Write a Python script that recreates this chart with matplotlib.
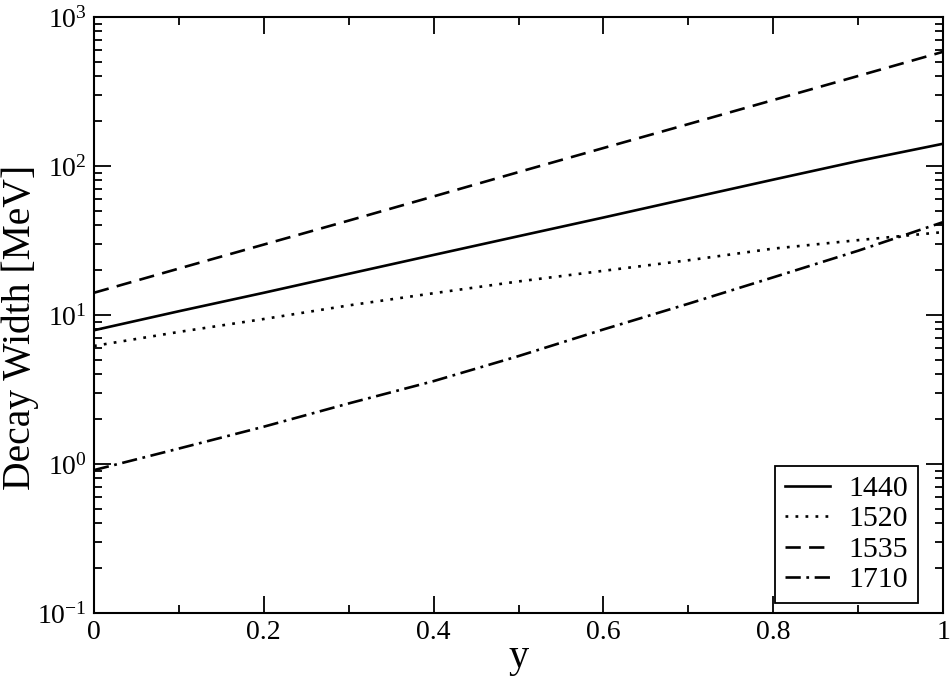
import math
import matplotlib
matplotlib.use("Agg")
import matplotlib.pyplot as plt
from matplotlib.ticker import LogLocator, FuncFormatter, MultipleLocator, NullFormatter

plt.rcParams['font.family'] = ['Liberation Serif', 'DejaVu Serif']
plt.rcParams['mathtext.fontset'] = 'custom'
plt.rcParams['mathtext.rm'] = 'Liberation Serif'
plt.rcParams['mathtext.it'] = 'Liberation Serif:italic'
plt.rcParams['lines.scale_dashes'] = False

# data (decay width in MeV vs y)
y_vals = [0.0, 0.1, 0.2, 0.3, 0.4, 0.5, 0.6, 0.7, 0.8, 0.9, 1.0]
w1440 = [7.9, 10.6, 14.1, 18.9, 25.3, 33.8, 45.1, 60.5, 81, 108, 141]
w1520 = [6.2, 7.7, 9.4, 11.6, 14.0, 16.8, 19.8, 23.3, 27.9, 31.8, 36]
w1535 = [14.1, 20.5, 29.7, 43, 62.5, 91, 132, 191, 277, 402, 584]
w1710 = [0.91, 1.27, 1.78, 2.55, 3.6, 5.3, 8.0, 11.9, 17.9, 27, 42]

labels = ['1440', '1520', '1535', '1710']
styles = ['-', (0, (2, 5.2)), (0, (11, 6)), (0, (11, 4, 2, 4))]

fig = plt.figure(figsize=(9.52, 6.77), dpi=100)
ax = fig.add_axes([0.0987, 0.0945, 0.8919, 0.8804])

for w, lab, ls in zip([w1440, w1520, w1535, w1710], labels, styles):
    ax.plot(y_vals, w, color='black', lw=1.9, linestyle=ls, label=lab)

ax.set_yscale('log')
ax.set_xlim(0, 1)
ax.set_ylim(0.1, 1000)

ax.xaxis.set_major_locator(MultipleLocator(0.2))
ax.xaxis.set_minor_locator(MultipleLocator(0.1))
ax.xaxis.set_major_formatter(FuncFormatter(lambda v, p: '%g' % v))
ax.yaxis.set_major_locator(LogLocator(base=10, numticks=10))
ax.yaxis.set_minor_locator(LogLocator(base=10, subs=range(2, 10), numticks=20))
ax.yaxis.set_minor_formatter(NullFormatter())
ax.yaxis.set_major_formatter(FuncFormatter(lambda v, p: r'$\mathregular{10^{%d}}$' % round(math.log10(v))))

ax.tick_params(which='both', direction='in', top=True, right=True, labelsize=20, width=1.3)
ax.tick_params(which='major', length=12.2, pad=5)
ax.tick_params(which='minor', length=6)
for s in ax.spines.values():
    s.set_linewidth(1.5)

ax.set_xlabel('y', fontsize=29, labelpad=-4)
ax.set_ylabel('Decay Width [MeV]', fontsize=28.5)
ax.yaxis.set_label_coords(-0.065, 0.48)

leg = ax.legend(loc='lower right', bbox_to_anchor=(0.9705, 0.0168), borderaxespad=0,
                fontsize=21.5, handlelength=1.5, handletextpad=0.64, labelspacing=0.12,
                borderpad=0.32, fancybox=False, framealpha=1, edgecolor='black')
leg.get_frame().set_linewidth(1.3)

plt.savefig('out.png', dpi=100)
plt.close()
